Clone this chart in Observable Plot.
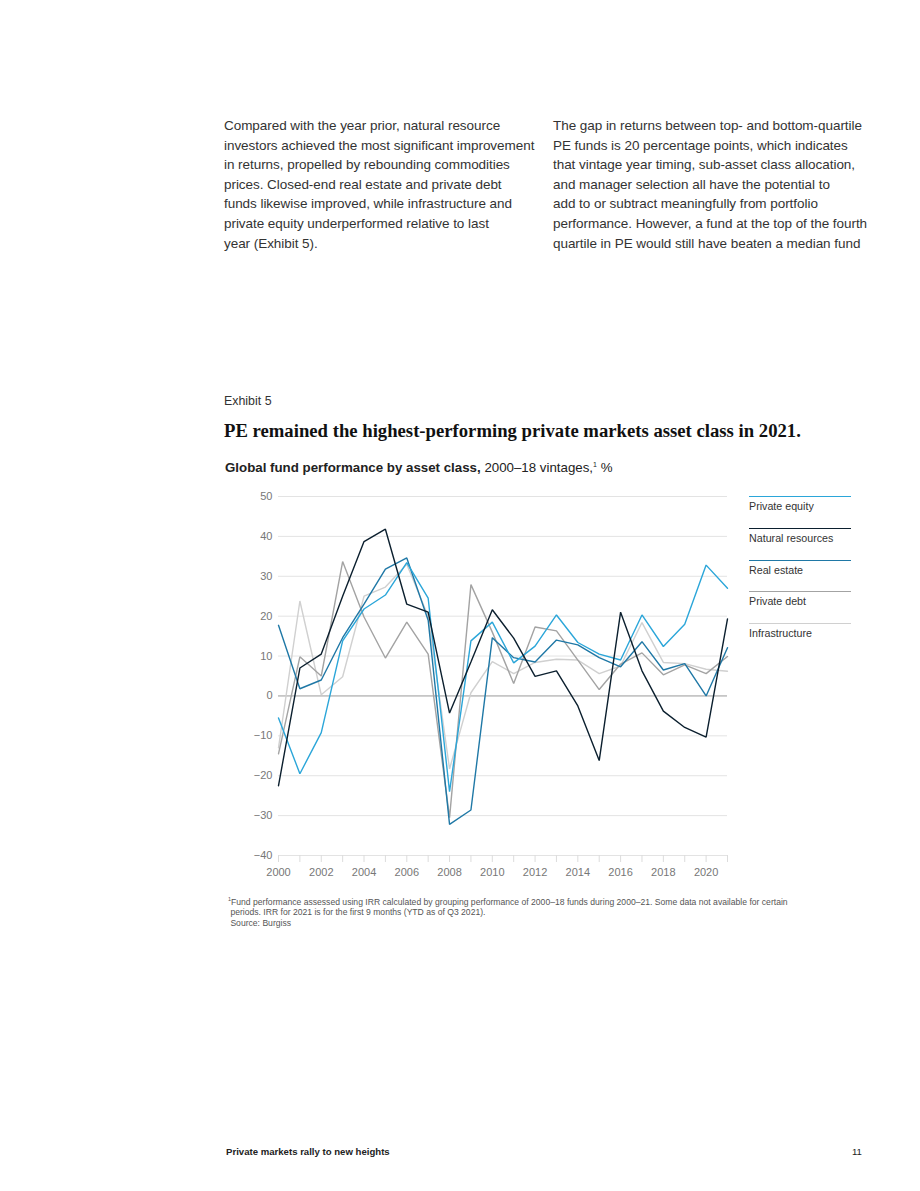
<!DOCTYPE html>
<html>
<head>
<meta charset="utf-8">
<script src="https://cdn.jsdelivr.net/npm/d3@7"></script>
<script src="https://cdn.jsdelivr.net/npm/@observablehq/plot@0.6"></script>
<style>
  html, body { margin: 0; padding: 0; background: #fff; }
  body { width: 920px; height: 1191px; position: relative; font-family: "Liberation Sans", Arial, sans-serif; color: #222; }
  .abs { position: absolute; white-space: nowrap; }
  .para { font-size: 13.5px; line-height: 19.6px; color: #333; letter-spacing: -0.05px; }
  .exhibit { font-size: 12.4px; color: #333; }
  .title { font-family: "Liberation Serif", "Times New Roman", serif; font-weight: bold; font-size: 18.7px; color: #111; }
  .subtitle { font-size: 13.3px; color: #222; }
  .foot { font-size: 8.6px; line-height: 10.4px; color: #555; }
  .legend-item { position: absolute; left: 749px; width: 102px; font-size: 10.7px; color: #333; }
  .legend-item .ln { height: 0; border-top-width: 1.3px; border-top-style: solid; }
  .legend-item .tx { margin-top: 3px; }
  #chart { position: absolute; left: 220px; top: 480px; }
</style>
</head>
<body>
<div class="abs para" style="left:224px; top:116px;">Compared with the year prior, natural resource<br>investors achieved the most significant improvement<br>in returns, propelled by rebounding commodities<br>prices. Closed-end real estate and private debt<br>funds likewise improved, while infrastructure and<br>private equity underperformed relative to last<br>year (Exhibit 5).</div>
<div class="abs para" style="left:553px; top:116px;">The gap in returns between top- and bottom-quartile<br>PE funds is 20 percentage points, which indicates<br>that vintage year timing, sub-asset class allocation,<br>and manager selection all have the potential to<br>add to or subtract meaningfully from portfolio<br>performance. However, a fund at the top of the fourth<br>quartile in PE would still have beaten a median fund</div>

<div class="abs exhibit" style="left:224px; top:394px;">Exhibit 5</div>
<div class="abs title" style="left:224px; top:420px;">PE remained the highest-performing private markets asset class in 2021.</div>
<div class="abs subtitle" style="left:225px; top:460px;"><b>Global fund performance by asset class,</b> 2000–18 vintages,<sup style="font-size:7px;">1</sup> %</div>

<div id="chart"></div>
<div id="legend"></div>

<div class="abs foot" style="left:228px; top:894px;"><sup style="font-size:5.5px;">1</sup>Fund performance assessed using IRR calculated by grouping performance of 2000–18 funds during 2000–21. Some data not available for certain<br>&nbsp;periods. IRR for 2021 is for the first 9 months (YTD as of Q3 2021).<br>&nbsp;Source: Burgiss</div>

<div class="abs" style="left:226px; top:1146px; font-size:9.6px; font-weight:bold; color:#222;">Private markets rally to new heights</div>
<div class="abs" style="left:852px; top:1146px; font-size:9.6px; color:#222;">11</div>

<script>
const years = [2000,2001,2002,2003,2004,2005,2006,2007,2008,2009,2010,2011,2012,2013,2014,2015,2016,2017,2018,2019,2020,2021];
const seriesNames = ["Private equity","Natural resources","Real estate","Private debt","Infrastructure"];
const seriesColors = ["#2ba6d9","#0b1f2e","#1f78a6","#a3a3a3","#d0d0d0"];
const privateEquity = [-5.5,-19.5,-9.2,13.8,21.8,25.3,33.4,24.5,-24,13.8,18.5,8.3,12.5,20.3,13.4,10.5,9.0,20.3,12.4,18,32.8,27];
const naturalResources = [-22.5,7,10.5,25,38.7,41.8,23,21,-4.3,8.5,21.6,14.5,4.9,6.3,-2.5,-16.2,21,6.3,-3.8,-7.9,-10.3,19.3];
const realEstate = [17.7,1.8,4.0,14.6,23,31.8,34.6,19,-32.2,-28.6,14.6,9.6,8.5,14,12.8,9.6,7.3,13.6,6.5,8.1,0,12.1];
const privateDebt = [-14.5,9.8,5,33.7,19.8,9.5,18.5,10.5,-30.5,27.9,16,3.1,17.3,16.3,9,1.6,8,10.8,5.3,7.8,5.6,9.9];
const infrastructure = [-13,23.8,0.3,4.8,25,27.3,33,20,-18.3,0.8,8.6,5.6,8.4,9.2,9,5.6,7.5,18.4,8.4,8.1,6.7,6.2];
const yTicks = [-40,-30,-20,-10,0,10,20,30,40,50];
const xLabelYears = [2000,2002,2004,2006,2008,2010,2012,2014,2016,2018,2020];

const seriesValues = [privateEquity, naturalResources, realEstate, privateDebt, infrastructure];
const rows = [];
seriesNames.forEach((name, i) => years.forEach((yr, j) => rows.push({series: name, year: yr, value: seriesValues[i][j]})));
const drawOrder = ["Infrastructure","Private debt","Real estate","Private equity","Natural resources"];

const plot = Plot.plot({
  width: 520,
  height: 400,
  marginLeft: 58,
  marginRight: 13,
  marginTop: 16,
  marginBottom: 25,
  style: {fontFamily: "Liberation Sans, Arial, sans-serif", fontSize: "11px", color: "#777", background: "transparent"},
  x: {domain: [2000, 2021], label: null},
  y: {domain: [-40, 50], label: null},
  marks: [
    Plot.ruleY(yTicks.filter(d => d !== 0), {stroke: "#e3e3e3", strokeWidth: 1}),
    Plot.ruleY([0], {stroke: "#9a9a9a", strokeWidth: 1}),
    Plot.axisX({ticks: years, tickFormat: d => xLabelYears.includes(d) ? String(d) : "", tickSize: 7, tickPadding: 6, stroke: "#dcdcdc", fill: "#777", label: null}),
    Plot.axisY({ticks: yTicks, tickSize: 0, tickPadding: 6, fill: "#777", label: null}),
    ...drawOrder.map(name => Plot.line(rows.filter(r => r.series === name), {x: "year", y: "value", stroke: seriesColors[seriesNames.indexOf(name)], strokeWidth: 1.4, strokeLinejoin: "miter"}))
  ]
});
document.getElementById("chart").appendChild(plot);

const legend = document.getElementById("legend");
seriesNames.forEach((name, i) => {
  const d = document.createElement("div");
  d.className = "legend-item";
  d.style.top = (496 + i * 31.8) + "px";
  d.innerHTML = `<div class="ln" style="border-top-color:${seriesColors[i]}"></div><div class="tx">${name}</div>`;
  legend.appendChild(d);
});
</script>
</body>
</html>
